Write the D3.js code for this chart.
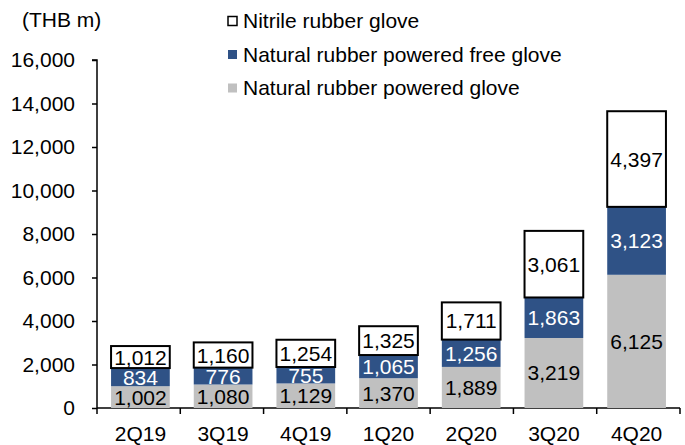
<!DOCTYPE html>
<html>
<head>
<meta charset="utf-8">
<script src="https://cdn.jsdelivr.net/npm/d3@7"></script>
<style>
  body { margin: 0; background: #fff; }
  text { font-family: "Liberation Sans", Arial, sans-serif; }
</style>
</head>
<body>
<div class="chart"></div>
<script>
let quarters = ["2Q19", "3Q19", "4Q19", "1Q20", "2Q20", "3Q20", "4Q20"]
let poweredGlove = [1002, 1080, 1129, 1370, 1889, 3219, 6125]
let powderFreeGlove = [834, 776, 755, 1065, 1256, 1863, 3123]
let nitrileGlove = [1012, 1160, 1254, 1325, 1711, 3061, 4397]
let yTicks = [0, 2000, 4000, 6000, 8000, 10000, 12000, 14000, 16000]

let seriesNames = ["Natural rubber powered glove", "Natural rubber powered free glove", "Nitrile rubber glove"]
let fills = ["#c0c0c0", "#2f5286", "#ffffff"]
let textColors = ["#000", "#fff", "#000"]

let width = 685
let height = 445
let margin = { top: 60, right: 5, bottom: 37, left: 97 }
let fs = 21

let svg = d3.select(".chart")
  .append("svg")
  .attr("width", width)
  .attr("height", height)

let rows = quarters.map((q, i) => ({
  q: q,
  s0: poweredGlove[i],
  s1: powderFreeGlove[i],
  s2: nitrileGlove[i]
}))
let stack = d3.stack().keys(["s0", "s1", "s2"])(rows)

let x = d3.scaleBand()
  .domain(quarters)
  .range([margin.left, width - margin.right])
  .paddingInner(0.29)
  .paddingOuter(0.17)

let y = d3.scaleLinear()
  .domain([0, 16000])
  .range([height - margin.bottom, margin.top])

let fmt = d3.format(",")

// axes
let yAxis = svg.append("g")
  .attr("transform", `translate(${margin.left},0)`)
  .call(d3.axisLeft(y).tickValues(yTicks).tickFormat(fmt).tickSize(5).tickPadding(17))
yAxis.select(".domain").attr("stroke", "#000").attr("stroke-width", 1.5).attr("d", `M-5,${y(16000)}H0V${y(0)}`)
yAxis.selectAll(".tick line").attr("stroke", "#000").attr("stroke-width", 1.5)
yAxis.selectAll(".tick text").attr("font-size", fs).attr("fill", "#000")

let xAxis = svg.append("g")
  .attr("transform", `translate(0,${y(0)})`)
xAxis.append("line")
  .attr("x1", margin.left).attr("x2", width - margin.right)
  .attr("stroke", "#000").attr("stroke-width", 1.5)
let bounds = d3.range(quarters.length + 1).map(i => margin.left + (width - margin.right - margin.left) * i / quarters.length)
xAxis.selectAll(".xt")
  .data(bounds)
  .enter()
  .append("line")
  .attr("x1", d => d).attr("x2", d => d)
  .attr("y1", 0).attr("y2", 6)
  .attr("stroke", "#000").attr("stroke-width", 1.5)
xAxis.selectAll(".xl")
  .data(quarters)
  .enter()
  .append("text")
  .attr("x", d => x(d) + x.bandwidth() / 2)
  .attr("y", 33)
  .attr("text-anchor", "middle")
  .attr("font-size", fs)
  .text(d => d)

// bars
stack.forEach((layer, k) => {
  let g = svg.append("g")
  g.selectAll("rect")
    .data(layer)
    .enter()
    .append("rect")
    .attr("x", d => x(d.data.q))
    .attr("width", x.bandwidth())
    .attr("y", d => y(d[1]))
    .attr("height", d => y(d[0]) - y(d[1]))
    .attr("fill", fills[k])
    .attr("stroke", k == 2 ? "#000" : "none")
    .attr("stroke-width", 2)
  g.selectAll("text")
    .data(layer)
    .enter()
    .append("text")
    .attr("x", d => x(d.data.q) + x.bandwidth() / 2)
    .attr("y", d => (y(d[0]) + y(d[1])) / 2 + 7.5)
    .attr("text-anchor", "middle")
    .attr("font-size", fs)
    .attr("fill", textColors[k])
    .text(d => fmt(d[1] - d[0]))
})

// unit label
svg.append("text")
  .attr("x", 22).attr("y", 27)
  .attr("font-size", fs)
  .text("(THB m)")

// legend
let legendOrder = [2, 1, 0]
let legend = svg.selectAll(".lg")
  .data(legendOrder)
  .enter()
  .append("g")
  .attr("transform", (d, i) => `translate(228,${21 + i * 33.5})`)
legend.append("rect")
  .attr("x", 0).attr("y", -4.5)
  .attr("width", 9).attr("height", 9)
  .attr("fill", d => fills[d])
  .attr("stroke", d => d == 2 ? "#000" : "none")
  .attr("stroke-width", 1.5)
legend.append("text")
  .attr("x", 15).attr("y", 7)
  .attr("font-size", fs)
  .text(d => seriesNames[d])
</script>
</body>
</html>
